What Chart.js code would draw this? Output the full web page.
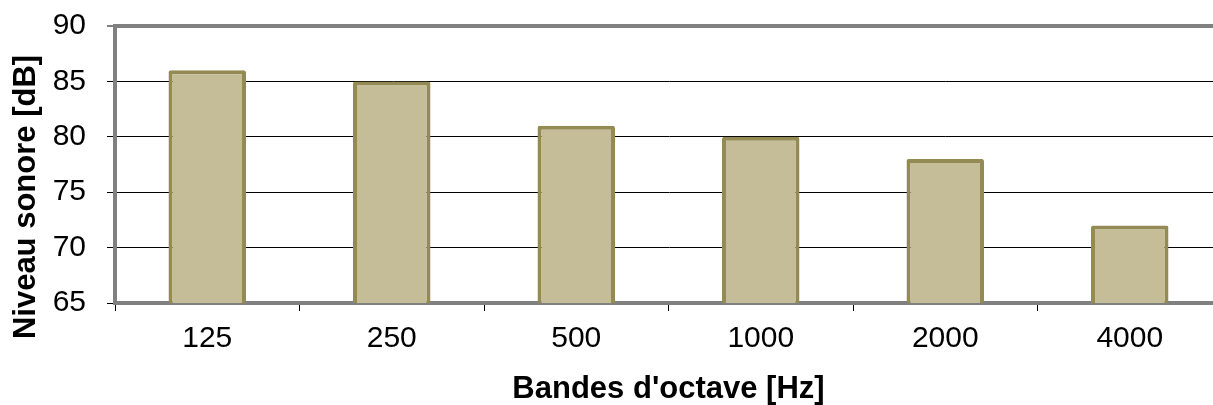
<!DOCTYPE html>
<html>
<head>
<meta charset="utf-8">
<script src="https://cdn.jsdelivr.net/npm/chart.js@4"></script>
<style>
  html, body { margin: 0; padding: 0; background: #fff; overflow: hidden; }
  #wrap { width: 1222px; height: 405px; }
</style>
</head>
<body>
<div id="wrap"><canvas id="levelChart"></canvas></div>
<script>
const bands = ["125", "250", "500", "1000", "2000", "4000"];
const levels = [86, 85, 81, 80, 78, 72];
const yTicks = [65, 70, 75, 80, 85, 90];
const yTitle = "Niveau sonore [dB]";
const xTitle = "Bandes d'octave [Hz]";

const font = "'Liberation Sans', Arial, sans-serif";

// y title sits lower than the chart area centre, so draw it by hand
const yTitlePlugin = {
  id: "yTitle",
  afterDraw(chart) {
    const c = chart.ctx;
    c.save();
    c.translate(26, 197);
    c.rotate(-Math.PI / 2);
    c.font = "bold 31px " + font;
    c.fillStyle = "#000";
    c.textAlign = "center";
    c.textBaseline = "middle";
    c.fillText(yTitle, 0, 0);
    c.restore();
  }
};

const ctx = document.getElementById("levelChart").getContext("2d");

new Chart(ctx, {
  type: "bar",
  data: {
    labels: bands,
    datasets: [{
      label: "Niveau sonore",
      data: levels,
      backgroundColor: "#C4BD97",
      borderColor: "#948A54",
      borderWidth: 4,
      borderRadius: 2,
      barPercentage: 0.84,
      categoryPercentage: 0.5,
    }],
  },
  plugins: [yTitlePlugin],
  options: {
    responsive: true,
    maintainAspectRatio: false,
    animation: false,
    layout: { padding: { top: 26, right: 0, left: 0, bottom: 0 } },
    plugins: {
      legend: { display: false },
      tooltip: { enabled: false },
    },
    scales: {
      x: {
        grid: {
          drawOnChartArea: false,
          tickLength: 8,
          tickColor: "#000",
          offset: true,
        },
        border: { color: "#808080", width: 4 },
        ticks: {
          color: "#000",
          font: { family: font, size: 30 },
          padding: 10,
        },
        title: {
          display: true,
          text: xTitle,
          color: "#000",
          font: { family: font, size: 31, weight: "bold", lineHeight: 1 },
          padding: { top: 0, bottom: 0 },
        },
        afterFit: (scale) => {
          scale.height = 102;
          scale.paddingLeft = 0;
          scale.paddingRight = 0;
        },
      },
      y: {
        min: 65,
        max: 90,
        afterBuildTicks: (scale) => {
          scale.ticks = yTicks.map(v => ({ value: v }));
        },
        grid: {
          color: (c) => c.tick && c.tick.value === 90 ? "#808080" : "#000",
          lineWidth: (c) => c.tick && c.tick.value === 90 ? 4 : 1,
          tickLength: 8,
          tickColor: "#000",
          tickWidth: 1,
        },
        border: { color: "#808080", width: 4 },
        ticks: {
          color: "#000",
          font: { family: font, size: 30 },
          padding: 21,
        },
        afterFit: (scale) => {
          scale.width = 115;
          scale.paddingTop = 0;
          scale.paddingBottom = 0;
        },
      },
    },
  },
});
</script>
</body>
</html>
